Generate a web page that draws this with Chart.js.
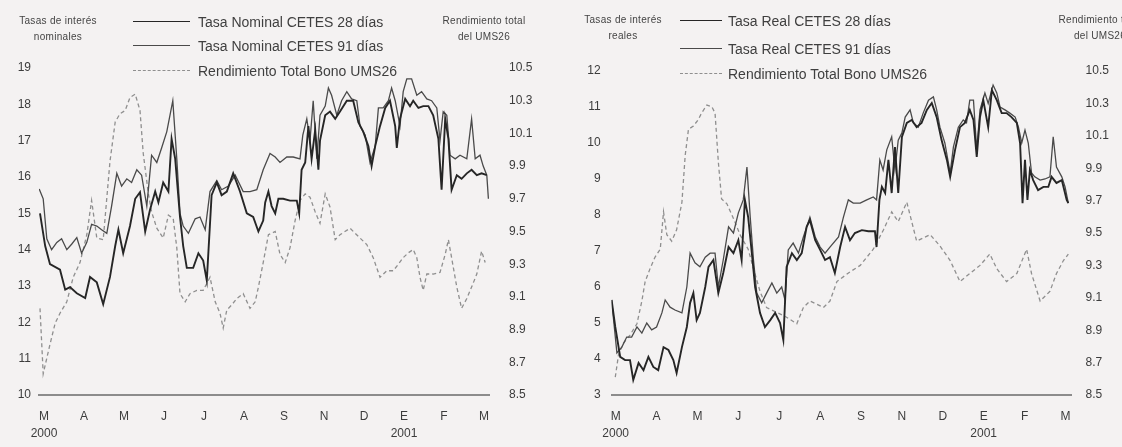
<!DOCTYPE html>
<html lang="es"><head><meta charset="utf-8">
<script src="https://cdn.jsdelivr.net/npm/chart.js@4.4.1/dist/chart.umd.min.js"></script>
<style>
html,body{margin:0;padding:0}
body{width:1122px;height:447px;overflow:hidden;position:relative;background:#f4f2f2;font-family:"Liberation Sans",Arial,sans-serif;color:#333}
canvas{position:absolute;top:0}
#c1{left:0}
#c2{left:560px}
.ttl{position:absolute;font-size:10px;line-height:16px;text-align:center;color:#444;white-space:nowrap;letter-spacing:0.3px}
.lg{position:absolute;font-size:14px;line-height:16px;color:#3f3f3f;white-space:nowrap}
.sw{position:absolute;height:0}
</style></head><body>
<canvas id="c1" width="560" height="447"></canvas>
<canvas id="c2" width="562" height="447"></canvas>
<div id="overlay"></div>
<script>
// ---- shared tick labels ----
const monthLabels = ['M','A','M','J','J','A','S','N','D','E','F','M'];
const yearLabels  = ['2000','','','','','','','','','2001','',''];

// ---- left panel: nominal rates (month index, value) ----
const nom28T = [-0.10,0.03,0.15,0.40,0.53,0.65,0.82,1.03,1.15,1.32,1.48,1.65,1.78,1.86,1.98,2.15,2.28,2.40,2.53,2.65,2.78,2.86,2.98,3.11,3.19,3.28,3.40,3.48,3.57,3.73,3.86,3.98,4.07,4.19,4.32,4.44,4.57,4.73,4.90,5.07,5.23,5.36,5.48,5.53,5.61,5.69,5.78,5.86,5.98,6.15,6.32,6.38,6.44,6.53,6.61,6.69,6.78,6.86,6.90,7.03,7.15,7.28,7.40,7.57,7.73,7.86,7.98,8.11,8.19,8.28,8.40,8.53,8.65,8.78,8.82,8.90,9.03,9.15,9.23,9.36,9.48,9.61,9.73,9.86,9.94,10.03,10.11,10.19,10.32,10.44,10.57,10.69,10.82,10.94,11.07];
const nom28V = [15.0,14.1,13.6,13.45,12.9,12.97,12.8,12.67,13.25,13.1,12.5,13.25,14.1,14.55,13.9,14.65,15.4,15.58,14.5,15.1,15.6,15.3,15.85,15.6,17.05,16.5,14.9,14.1,13.5,13.5,13.9,13.7,13.15,15.5,15.85,15.5,15.6,16.1,15.6,15.0,14.9,14.5,14.8,15.3,15.6,15.2,15.0,15.4,15.4,15.35,15.35,15.0,16.2,16.4,17.4,16.5,17.3,16.2,17.0,17.7,17.8,17.6,17.8,18.1,18.1,17.5,17.25,16.85,16.3,16.85,17.4,17.9,18.1,17.4,16.8,17.6,18.15,17.95,18.1,17.9,17.95,17.95,17.7,17.05,15.65,17.6,17.05,15.65,16.05,15.95,16.1,16.2,16.05,16.1,16.05];
const nom91T = [-0.12,-0.02,0.07,0.19,0.32,0.44,0.57,0.69,0.82,0.94,1.07,1.19,1.32,1.44,1.57,1.69,1.82,1.94,2.07,2.19,2.32,2.44,2.57,2.69,2.82,2.94,3.07,3.22,3.32,3.40,3.48,3.61,3.78,3.90,4.03,4.15,4.32,4.44,4.61,4.78,4.98,5.15,5.32,5.48,5.65,5.78,5.90,6.07,6.23,6.40,6.47,6.57,6.65,6.73,6.82,6.90,7.03,7.11,7.19,7.32,7.44,7.57,7.69,7.82,7.90,8.03,8.15,8.28,8.36,8.48,8.61,8.69,8.78,8.90,8.98,9.07,9.19,9.32,9.44,9.57,9.69,9.82,9.90,9.98,10.07,10.15,10.28,10.40,10.57,10.69,10.78,10.90,10.98,11.07,11.11];
const nom91V = [15.67,15.4,14.3,14.0,14.2,14.3,14.0,14.15,14.33,13.9,14.2,14.7,14.65,14.55,14.45,15.2,16.1,15.75,15.95,15.85,16.2,16.05,15.2,16.6,16.4,16.8,17.25,18.1,16.5,15.0,14.65,14.45,14.85,14.9,14.55,15.6,15.9,15.65,15.75,16.05,15.6,15.6,15.65,16.2,16.65,16.55,16.4,16.55,16.55,16.5,17.15,17.6,17.0,18.1,16.5,17.7,17.95,18.45,18.25,17.7,18.1,18.35,18.15,18.1,17.4,17.15,16.4,16.85,17.9,17.9,18.1,18.45,18.1,17.4,18.35,18.7,18.7,18.25,18.35,18.15,18.1,17.9,17.0,17.8,17.7,16.6,16.5,16.6,16.5,17.6,16.5,16.6,16.3,16.05,15.4];
const umsLT = [-0.10,-0.02,0.15,0.28,0.40,0.57,0.73,0.90,1.07,1.19,1.32,1.48,1.65,1.78,1.90,2.03,2.15,2.28,2.40,2.48,2.61,2.69,2.82,2.98,3.11,3.23,3.32,3.40,3.53,3.65,3.82,3.98,4.15,4.28,4.40,4.48,4.57,4.69,4.82,4.98,5.15,5.28,5.36,5.48,5.61,5.78,5.90,6.03,6.15,6.28,6.40,6.53,6.65,6.78,6.90,7.03,7.15,7.28,7.40,7.65,7.90,8.07,8.23,8.40,8.57,8.73,8.86,8.98,9.11,9.23,9.32,9.40,9.48,9.57,9.73,9.90,10.03,10.11,10.19,10.32,10.44,10.57,10.69,10.82,10.94,11.03];
const umsLV = [9.03,8.63,8.81,8.94,9.0,9.07,9.22,9.31,9.48,9.69,9.46,9.45,9.93,10.17,10.22,10.24,10.32,10.34,10.24,9.98,9.73,9.62,9.52,9.46,9.6,9.58,9.4,9.12,9.07,9.12,9.14,9.14,9.22,9.07,9.0,8.91,9.02,9.05,9.09,9.12,9.03,9.07,9.16,9.31,9.48,9.5,9.36,9.31,9.4,9.57,9.69,9.73,9.71,9.62,9.55,9.73,9.65,9.45,9.48,9.52,9.46,9.42,9.34,9.22,9.26,9.26,9.3,9.34,9.37,9.39,9.34,9.22,9.14,9.24,9.24,9.25,9.36,9.45,9.34,9.16,9.03,9.09,9.16,9.24,9.38,9.31];

// ---- right panel: real rates ----
const real28T = [-0.10,-0.01,0.11,0.23,0.35,0.43,0.56,0.68,0.80,0.92,1.04,1.17,1.29,1.41,1.49,1.62,1.74,1.82,1.90,1.98,2.06,2.19,2.27,2.39,2.51,2.63,2.76,2.88,3.00,3.08,3.16,3.24,3.33,3.41,3.53,3.65,3.78,3.90,4.02,4.10,4.18,4.31,4.43,4.55,4.67,4.75,4.88,5.00,5.12,5.24,5.36,5.49,5.61,5.73,5.85,6.02,6.18,6.34,6.38,6.45,6.51,6.59,6.67,6.75,6.83,6.91,7.00,7.12,7.24,7.36,7.48,7.61,7.73,7.85,7.97,8.10,8.18,8.30,8.42,8.54,8.66,8.75,8.83,8.91,8.99,9.11,9.20,9.32,9.44,9.56,9.68,9.81,9.89,9.95,10.01,10.07,10.13,10.21,10.33,10.46,10.58,10.66,10.78,10.91,11.03,11.07];
const real28V = [5.64,4.89,4.06,3.97,3.97,3.42,3.89,3.69,4.06,3.78,3.69,4.33,4.25,3.97,3.61,4.33,4.89,5.56,5.83,5.08,5.28,6.0,6.56,6.75,5.83,6.39,7.11,6.94,7.3,6.75,8.42,7.94,6.94,6.0,5.28,4.89,5.08,5.28,5.0,4.53,6.56,6.94,6.75,6.94,7.67,7.86,7.3,7.03,6.75,6.83,6.39,7.11,7.67,7.3,7.5,7.58,7.55,7.55,7.11,8.42,8.78,8.61,9.53,8.61,9.89,8.61,10.17,10.56,10.64,10.44,10.56,10.92,11.11,10.72,10.08,9.53,9.06,9.81,10.44,10.56,10.92,10.64,9.61,10.72,11.19,10.44,11.47,11.19,10.83,10.83,10.72,10.56,10.0,8.33,9.53,8.42,9.25,8.97,8.69,8.78,8.78,9.06,8.89,8.97,8.42,8.33];
const real91T = [-0.10,0.03,0.15,0.27,0.39,0.52,0.64,0.76,0.88,1.00,1.13,1.21,1.33,1.45,1.62,1.74,1.82,1.94,2.06,2.19,2.31,2.43,2.51,2.63,2.76,2.88,3.00,3.12,3.21,3.29,3.37,3.45,3.57,3.69,3.82,3.94,4.06,4.14,4.22,4.34,4.47,4.59,4.75,4.88,5.00,5.12,5.24,5.45,5.57,5.69,5.81,5.98,6.14,6.30,6.38,6.46,6.54,6.63,6.75,6.83,6.91,7.00,7.08,7.20,7.28,7.40,7.52,7.65,7.77,7.85,7.93,8.05,8.18,8.26,8.38,8.50,8.58,8.66,8.75,8.83,8.91,9.03,9.11,9.23,9.32,9.40,9.52,9.64,9.77,9.85,9.93,10.01,10.09,10.17,10.25,10.38,10.50,10.62,10.70,10.78,10.91,10.99,11.07];
const real91V = [5.64,4.17,4.33,4.61,4.61,4.89,4.72,5.0,4.81,4.89,5.28,5.64,5.44,5.36,5.28,6.0,6.94,6.67,6.56,6.83,6.94,6.94,6.0,6.75,7.67,7.5,8.06,8.42,9.33,7.94,6.75,5.83,5.56,5.83,6.11,5.83,6.0,5.64,7.03,7.22,6.94,7.39,7.94,7.39,7.11,6.94,7.11,7.39,7.94,8.42,8.33,8.33,8.42,8.5,8.42,9.53,9.25,9.81,10.17,9.25,10.08,10.28,10.72,10.92,10.56,10.44,10.83,11.19,11.28,10.92,10.44,10.0,9.17,9.89,10.44,10.64,10.56,11.19,11.19,9.81,10.92,11.39,11.1,11.61,11.39,11.0,10.92,10.83,10.72,10.44,10.0,10.36,10.0,9.17,9.06,8.97,9.0,9.06,10.17,9.33,9.06,8.78,8.33];
const umsRT = [-0.01,0.07,0.19,0.35,0.52,0.64,0.72,0.84,0.96,1.09,1.17,1.25,1.37,1.49,1.62,1.70,1.78,1.90,2.02,2.10,2.23,2.35,2.43,2.51,2.59,2.72,2.88,3.04,3.24,3.37,3.53,3.69,3.94,4.18,4.43,4.59,4.75,4.92,5.08,5.24,5.41,5.73,5.98,6.30,6.55,6.75,6.91,7.12,7.36,7.69,7.93,8.18,8.42,8.66,8.91,9.15,9.32,9.56,9.81,10.05,10.17,10.38,10.62,10.78,10.95,11.07];
const umsRV = [8.61,8.75,8.82,8.87,8.94,9.08,9.2,9.28,9.35,9.4,9.63,9.49,9.45,9.52,9.69,9.98,10.14,10.16,10.2,10.24,10.29,10.28,10.24,9.94,9.71,9.68,9.59,9.49,9.4,9.28,9.14,9.04,9.01,8.98,8.94,9.04,9.08,9.06,9.04,9.08,9.2,9.26,9.3,9.4,9.52,9.63,9.57,9.69,9.45,9.49,9.42,9.33,9.2,9.25,9.3,9.37,9.28,9.2,9.25,9.4,9.25,9.08,9.14,9.25,9.33,9.37];

const FONT = '"Liberation Sans", Arial, sans-serif';
Chart.defaults.font.family = FONT;
Chart.defaults.color = '#3c3c3c';

const STY = {
  s28: {borderColor:'#262626', borderWidth:1.9, borderDash:[]},
  s91: {borderColor:'#4a4a4a', borderWidth:1.3, borderDash:[]},
  ums: {borderColor:'#8f8f8f', borderWidth:1.3, borderDash:[4,3]}
};

function pts(t, v){ const n=Math.min(t.length,v.length); const o=[]; for(let i=0;i<n;i++) o.push({x:t[i],y:v[i]}); return o; }

function makeChart(id, o){
  const ds = o.series.map(s => Object.assign({
    label:s.label, data:pts(s.t,s.v), yAxisID:s.axis, pointRadius:0, tension:0, fill:false, spanGaps:true
  }, STY[s.sty]));
  const W = o.canvasW, H = 447;
  return new Chart(document.getElementById(id), {
    type:'line',
    data:{datasets:ds},
    options:{
      responsive:false, animation:false, events:[],
      layout:{padding:{top:o.top,left:0,right:0,bottom:0}},
      plugins:{legend:{display:false},tooltip:{enabled:false}},
      scales:{
        x:{type:'linear', position:'bottom', min:o.xmin, max:o.xmax,
           grid:{display:false, drawTicks:false},
           border:{display:true, color:'#8c8c8c', width:2},
           afterFit:s=>{s.height = H - o.bottom;},
           afterBuildTicks:s=>{s.ticks = monthLabels.map((_,i)=>({value:i}));},
           ticks:{autoSkip:false, maxRotation:0, padding:13, color:'#3c3c3c',
                  font:{size:12, lineHeight:1.4},
                  callback:(v,i)=> yearLabels[i] ? [monthLabels[i], yearLabels[i]] : monthLabels[i]}},
        yL:{type:'linear', position:'left', min:o.yLmin, max:o.yLmax,
            grid:{display:false, drawTicks:false}, border:{display:false},
            afterFit:s=>{s.width = o.left;},
            ticks:{stepSize:1, padding:o.padL, color:'#3c3c3c', font:{size:12}}},
        yR:{type:'linear', position:'right', min:8.5, max:10.5,
            grid:{display:false, drawTicks:false}, border:{display:false},
            afterFit:s=>{s.width = W - o.right;},
            afterBuildTicks:s=>{const t=[]; for(let k=0;k<=10;k++) t.push({value:+(8.5+0.2*k).toFixed(1)}); s.ticks=t;},
            ticks:{padding:o.padR, color:'#3c3c3c', font:{size:12}, callback:v=>Number(v).toFixed(1)}}
      }
    }
  });
}

const leftSeries = [
  {label:'Tasa Nominal CETES 28 días', t:nom28T, v:nom28V, axis:'yL', sty:'s28'},
  {label:'Tasa Nominal CETES 91 días', t:nom91T, v:nom91V, axis:'yL', sty:'s91'},
  {label:'Rendimiento Total Bono UMS26', t:umsLT, v:umsLV, axis:'yR', sty:'ums'}
];
const rightSeries = [
  {label:'Tasa Real CETES 28 días', t:real28T, v:real28V, axis:'yL', sty:'s28'},
  {label:'Tasa Real CETES 91 días', t:real91T, v:real91V, axis:'yL', sty:'s91'},
  {label:'Rendimiento Total Bono UMS26', t:umsRT, v:umsRV, axis:'yR', sty:'ums'}
];

makeChart('c1', {series:leftSeries, canvasW:560, top:68, bottom:395, left:39, right:489,
  xmin:-0.125, xmax:11.125, yLmin:10, yLmax:19, padL:8, padR:20});
makeChart('c2', {series:rightSeries, canvasW:562, top:71, bottom:395, left:51.6, right:511.6,
  xmin:-0.1, xmax:11.15, yLmin:3, yLmax:12, padL:11, padR:14});

// ---- overlay texts: axis titles and legends ----
const ov = document.getElementById('overlay');
function txt(cls, x, y, html, extra){ const d=document.createElement('div'); d.className=cls; d.style.left=x+'px'; d.style.top=y+'px'; d.innerHTML=html; if(extra) Object.assign(d.style, extra); ov.appendChild(d); return d; }
txt('ttl', 8, 13, 'Tasas de interés<br>nominales', {width:'100px'});
txt('ttl', 432, 13, 'Rendimiento total<br>del UMS26', {width:'104px'});
txt('ttl', 575, 12, 'Tasas de interés<br>reales', {width:'96px'});
txt('ttl', 1052, 12, 'Rendimiento total<br>del UMS26', {width:'96px'});

function legend(series, lineX0, lineX1, textX, ys){
  series.forEach((s,i)=>{
    const st = STY[s.sty];
    const sw = document.createElement('div'); sw.className='sw';
    sw.style.left=lineX0+'px'; sw.style.top=(ys[i]-1)+'px'; sw.style.width=(lineX1-lineX0)+'px';
    sw.style.borderTop = Math.max(1.3,st.borderWidth)+'px '+(st.borderDash.length?'dashed ':'solid ')+st.borderColor;
    ov.appendChild(sw);
    txt('lg', textX, ys[i]-8, s.label);
  });
}
legend(leftSeries, 133, 190, 198, [22, 46, 71]);
legend(rightSeries, 680, 722, 728, [21, 49, 74]);
</script>
</body></html>
